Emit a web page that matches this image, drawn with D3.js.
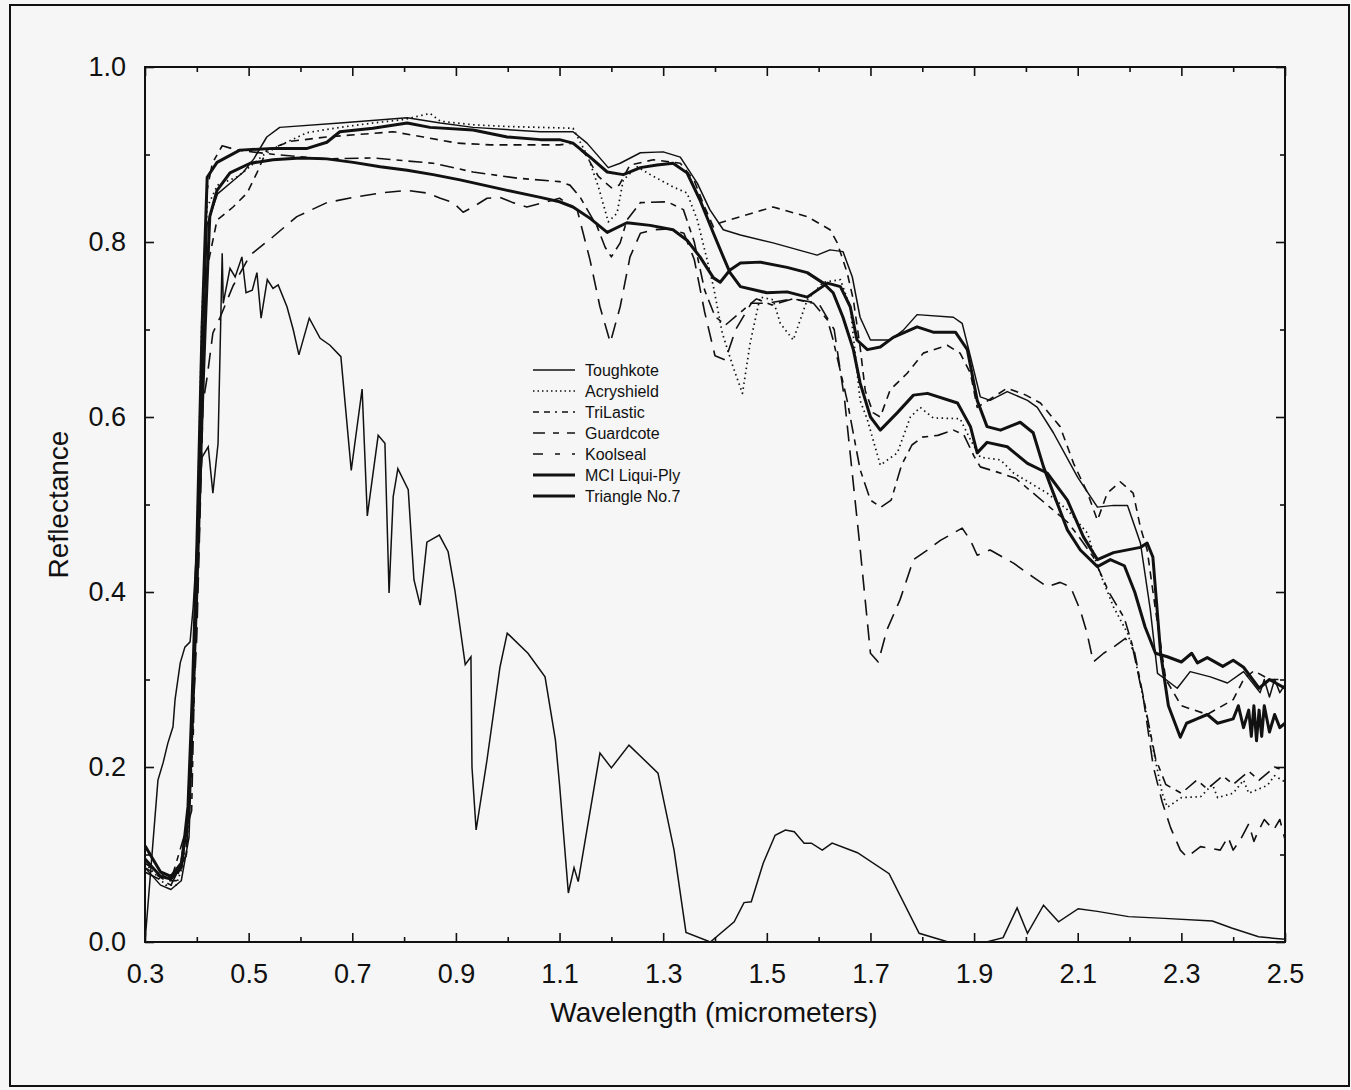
<!DOCTYPE html>
<html>
<head>
<meta charset="utf-8">
<script src="https://cdn.jsdelivr.net/npm/d3@7"></script>
<style>
body { margin:0; background:#f6f6f6; }
svg { display:block; }
text { font-family: Arial, "Liberation Sans", Helvetica, sans-serif; fill:#111; }
.axis-label { font-size:28px; }
.tick-label { font-size:27px; }
.legend-text { font-size:16px; }
</style>
</head>
<body>
<div id="chart"></div>
<script>
// ---- data: [wavelength (um), reflectance] ----
var toughkote = [[0.30,0.085],[0.33,0.065],[0.35,0.06],[0.37,0.07],[0.385,0.12],[0.395,0.3],[0.405,0.55],[0.42,0.82],[0.44,0.855],[0.47,0.87],[0.49,0.88],[0.51,0.895],[0.535,0.92],[0.56,0.931],[0.676,0.936],[0.806,0.942],[0.87,0.936],[0.933,0.931],[1.063,0.926],[1.126,0.926],[1.153,0.913],[1.194,0.885],[1.217,0.89],[1.256,0.902],[1.30,0.903],[1.333,0.897],[1.366,0.867],[1.39,0.837],[1.416,0.814],[1.449,0.808],[1.512,0.799],[1.597,0.785],[1.622,0.791],[1.647,0.789],[1.665,0.76],[1.68,0.714],[1.70,0.688],[1.738,0.688],[1.763,0.699],[1.79,0.717],[1.86,0.714],[1.877,0.707],[1.893,0.669],[1.912,0.623],[1.931,0.619],[1.964,0.629],[2.003,0.619],[2.022,0.611],[2.053,0.582],[2.10,0.531],[2.138,0.497],[2.169,0.499],[2.196,0.499],[2.221,0.456],[2.24,0.38],[2.254,0.307],[2.27,0.30],[2.292,0.29],[2.317,0.309],[2.356,0.303],[2.389,0.296],[2.42,0.309],[2.452,0.285],[2.46,0.30],[2.47,0.28],[2.48,0.30],[2.49,0.285],[2.50,0.294]];

var acryshield = [[0.30,0.09],[0.34,0.065],[0.36,0.065],[0.38,0.10],[0.39,0.2],[0.40,0.45],[0.41,0.72],[0.42,0.84],[0.44,0.865],[0.48,0.875],[0.50,0.885],[0.53,0.90],[0.555,0.909],[0.613,0.925],[0.676,0.931],[0.74,0.936],[0.80,0.94],[0.85,0.947],[0.87,0.938],[0.933,0.934],[1.00,0.932],[1.063,0.931],[1.126,0.93],[1.155,0.897],[1.175,0.863],[1.194,0.823],[1.211,0.833],[1.223,0.871],[1.25,0.886],[1.275,0.877],[1.319,0.863],[1.346,0.856],[1.366,0.825],[1.385,0.779],[1.397,0.749],[1.414,0.696],[1.435,0.657],[1.453,0.627],[1.468,0.685],[1.487,0.737],[1.512,0.734],[1.526,0.707],[1.551,0.688],[1.578,0.734],[1.609,0.754],[1.642,0.757],[1.661,0.726],[1.68,0.619],[1.694,0.597],[1.719,0.545],[1.752,0.559],[1.777,0.60],[1.796,0.611],[1.821,0.599],[1.873,0.598],[1.893,0.574],[1.912,0.554],[1.951,0.551],[1.976,0.536],[2.041,0.513],[2.08,0.494],[2.119,0.467],[2.138,0.429],[2.169,0.383],[2.196,0.353],[2.207,0.334],[2.227,0.277],[2.246,0.219],[2.263,0.17],[2.273,0.154],[2.30,0.165],[2.337,0.166],[2.36,0.18],[2.37,0.165],[2.40,0.17],[2.42,0.185],[2.43,0.17],[2.466,0.179],[2.48,0.19],[2.50,0.183]];

var trilastic = [[0.30,0.085],[0.34,0.07],[0.36,0.07],[0.38,0.11],[0.39,0.2],[0.40,0.4],[0.41,0.62],[0.42,0.77],[0.439,0.825],[0.47,0.84],[0.497,0.856],[0.516,0.879],[0.535,0.905],[0.58,0.915],[0.65,0.92],[0.779,0.926],[0.837,0.92],[0.902,0.913],[0.966,0.911],[1.10,0.911],[1.126,0.913],[1.15,0.90],[1.175,0.875],[1.20,0.862],[1.215,0.865],[1.236,0.888],[1.281,0.894],[1.333,0.89],[1.36,0.87],[1.38,0.84],[1.397,0.817],[1.41,0.822],[1.449,0.829],[1.512,0.84],[1.578,0.829],[1.622,0.814],[1.636,0.799],[1.655,0.765],[1.667,0.734],[1.68,0.68],[1.69,0.63],[1.705,0.605],[1.719,0.60],[1.738,0.631],[1.771,0.65],[1.802,0.673],[1.848,0.682],[1.873,0.673],[1.893,0.65],[1.906,0.611],[1.93,0.62],[1.964,0.633],[2.00,0.625],[2.028,0.616],[2.066,0.589],[2.092,0.547],[2.119,0.513],[2.138,0.482],[2.157,0.513],[2.182,0.526],[2.207,0.513],[2.221,0.474],[2.234,0.448],[2.25,0.38],[2.27,0.30],[2.30,0.27],[2.35,0.26],[2.40,0.277],[2.42,0.30],[2.44,0.31],[2.47,0.30],[2.50,0.30]];

var guardcote = [[0.30,0.09],[0.35,0.07],[0.39,0.15],[0.41,0.7],[0.42,0.86],[0.43,0.89],[0.449,0.91],[0.478,0.905],[0.55,0.90],[0.65,0.895],[0.74,0.896],[0.856,0.89],[0.933,0.88],[1.018,0.873],[1.10,0.869],[1.12,0.865],[1.14,0.851],[1.173,0.817],[1.188,0.794],[1.20,0.783],[1.217,0.799],[1.23,0.825],[1.256,0.845],[1.308,0.846],[1.339,0.837],[1.36,0.80],[1.38,0.745],[1.40,0.715],[1.42,0.705],[1.45,0.72],[1.48,0.735],[1.51,0.728],[1.55,0.735],[1.59,0.73],[1.617,0.711],[1.628,0.688],[1.655,0.619],[1.68,0.54],[1.70,0.505],[1.72,0.497],[1.74,0.505],[1.76,0.545],[1.78,0.568],[1.80,0.577],[1.83,0.579],[1.86,0.585],[1.88,0.58],[1.90,0.555],[1.912,0.543],[1.945,0.537],[1.98,0.53],[2.00,0.52],[2.04,0.50],[2.08,0.48],[2.10,0.465],[2.13,0.44],[2.16,0.40],[2.19,0.37],[2.21,0.33],[2.23,0.27],[2.25,0.21],[2.27,0.18],[2.30,0.17],[2.33,0.185],[2.35,0.175],[2.38,0.19],[2.40,0.18],[2.43,0.195],[2.45,0.185],[2.48,0.2],[2.50,0.195]];

var koolseal = [[0.30,0.08],[0.35,0.065],[0.38,0.10],[0.40,0.35],[0.412,0.616],[0.42,0.646],[0.431,0.696],[0.445,0.714],[0.47,0.75],[0.503,0.785],[0.547,0.806],[0.593,0.829],[0.651,0.845],[0.702,0.851],[0.754,0.856],[0.806,0.859],[0.844,0.856],[0.87,0.85],[0.895,0.845],[0.914,0.834],[0.933,0.84],[0.96,0.85],[0.985,0.851],[1.01,0.845],[1.037,0.84],[1.076,0.846],[1.10,0.85],[1.134,0.837],[1.159,0.779],[1.178,0.726],[1.198,0.685],[1.217,0.726],[1.236,0.783],[1.256,0.81],[1.281,0.814],[1.31,0.815],[1.34,0.81],[1.36,0.78],[1.38,0.72],[1.40,0.67],[1.42,0.665],[1.44,0.70],[1.47,0.73],[1.50,0.73],[1.55,0.735],[1.60,0.73],[1.63,0.70],[1.65,0.62],[1.68,0.45],[1.70,0.33],[1.715,0.32],[1.732,0.357],[1.757,0.391],[1.783,0.437],[1.81,0.448],[1.835,0.459],[1.877,0.473],[1.893,0.459],[1.906,0.442],[1.931,0.448],[1.976,0.433],[2.014,0.417],[2.041,0.406],[2.066,0.411],[2.086,0.406],[2.105,0.379],[2.118,0.353],[2.13,0.32],[2.15,0.33],[2.169,0.337],[2.192,0.347],[2.207,0.334],[2.227,0.277],[2.246,0.20],[2.263,0.16],[2.279,0.131],[2.298,0.105],[2.311,0.097],[2.337,0.109],[2.375,0.105],[2.39,0.12],[2.40,0.105],[2.414,0.117],[2.43,0.135],[2.44,0.115],[2.447,0.125],[2.46,0.14],[2.478,0.128],[2.49,0.14],[2.50,0.117]];

var mciLiquiPly = [[0.30,0.095],[0.33,0.075],[0.35,0.072],[0.37,0.085],[0.383,0.155],[0.391,0.277],[0.40,0.45],[0.41,0.70],[0.42,0.874],[0.439,0.891],[0.483,0.905],[0.547,0.907],[0.613,0.907],[0.651,0.914],[0.676,0.926],[0.74,0.93],[0.806,0.936],[0.85,0.931],[0.933,0.928],[0.999,0.92],[1.063,0.917],[1.10,0.917],[1.126,0.913],[1.159,0.897],[1.192,0.88],[1.223,0.877],[1.256,0.885],[1.288,0.888],[1.319,0.89],[1.346,0.879],[1.371,0.848],[1.397,0.81],[1.416,0.783],[1.429,0.765],[1.449,0.749],[1.50,0.742],[1.539,0.743],[1.578,0.737],[1.617,0.753],[1.642,0.749],[1.661,0.726],[1.674,0.688],[1.694,0.677],[1.719,0.68],[1.744,0.691],[1.79,0.703],[1.821,0.697],[1.864,0.697],[1.887,0.677],[1.906,0.619],[1.925,0.589],[1.951,0.585],[1.989,0.594],[2.014,0.582],[2.034,0.543],[2.053,0.513],[2.08,0.471],[2.105,0.448],[2.138,0.429],[2.163,0.437],[2.19,0.43],[2.21,0.40],[2.23,0.36],[2.25,0.33],[2.273,0.326],[2.30,0.32],[2.32,0.33],[2.331,0.319],[2.35,0.325],[2.38,0.315],[2.40,0.322],[2.42,0.314],[2.45,0.29],[2.47,0.30],[2.50,0.29]];

var triangleNo7 = [[0.30,0.11],[0.33,0.08],[0.35,0.075],[0.37,0.09],[0.383,0.14],[0.391,0.25],[0.40,0.40],[0.41,0.60],[0.416,0.70],[0.425,0.829],[0.439,0.859],[0.464,0.879],[0.503,0.89],[0.547,0.894],[0.60,0.896],[0.651,0.895],[0.702,0.891],[0.754,0.886],[0.806,0.882],[0.856,0.877],[0.908,0.871],[0.999,0.859],[1.063,0.851],[1.10,0.846],[1.126,0.84],[1.159,0.827],[1.192,0.811],[1.23,0.822],[1.275,0.819],[1.319,0.814],[1.346,0.802],[1.371,0.783],[1.397,0.759],[1.41,0.754],[1.429,0.768],[1.449,0.776],[1.487,0.777],[1.539,0.771],[1.578,0.765],[1.609,0.753],[1.628,0.742],[1.647,0.714],[1.667,0.677],[1.68,0.639],[1.70,0.60],[1.719,0.585],[1.752,0.605],[1.783,0.625],[1.81,0.627],[1.868,0.616],[1.893,0.589],[1.906,0.559],[1.925,0.571],[1.964,0.566],[2.003,0.547],[2.041,0.536],[2.08,0.505],[2.111,0.463],[2.138,0.437],[2.169,0.445],[2.221,0.451],[2.234,0.456],[2.245,0.44],[2.26,0.33],[2.275,0.27],[2.298,0.234],[2.31,0.25],[2.33,0.255],[2.35,0.26],[2.37,0.25],[2.40,0.255],[2.41,0.27],[2.42,0.245],[2.43,0.265],[2.435,0.235],[2.44,0.27],[2.445,0.23],[2.45,0.265],[2.455,0.235],[2.46,0.27],[2.47,0.24],[2.48,0.26],[2.49,0.245],[2.50,0.25]];

// unlabeled solar irradiance curve (thin solid)
var solar = [[0.30,0.0],[0.325,0.185],[0.335,0.205],[0.344,0.227],[0.354,0.246],[0.358,0.277],[0.368,0.319],[0.377,0.337],[0.387,0.343],[0.393,0.383],[0.41,0.554],[0.422,0.566],[0.431,0.513],[0.441,0.57],[0.449,0.787],[0.451,0.73],[0.464,0.77],[0.474,0.76],[0.487,0.783],[0.495,0.742],[0.507,0.745],[0.516,0.765],[0.524,0.713],[0.536,0.757],[0.547,0.747],[0.557,0.751],[0.574,0.726],[0.586,0.70],[0.597,0.671],[0.617,0.713],[0.638,0.69],[0.657,0.682],[0.678,0.669],[0.698,0.539],[0.719,0.632],[0.729,0.487],[0.75,0.579],[0.763,0.57],[0.771,0.399],[0.779,0.509],[0.788,0.541],[0.808,0.517],[0.819,0.414],[0.831,0.385],[0.844,0.457],[0.868,0.465],[0.885,0.446],[0.898,0.402],[0.918,0.317],[0.929,0.326],[0.931,0.2],[0.939,0.128],[0.96,0.208],[0.985,0.314],[0.999,0.353],[1.039,0.33],[1.072,0.303],[1.092,0.231],[1.10,0.18],[1.117,0.056],[1.128,0.085],[1.136,0.069],[1.178,0.216],[1.20,0.199],[1.234,0.225],[1.29,0.193],[1.321,0.105],[1.344,0.011],[1.391,0.0],[1.437,0.023],[1.456,0.045],[1.47,0.046],[1.493,0.09],[1.516,0.122],[1.536,0.128],[1.553,0.126],[1.572,0.113],[1.586,0.113],[1.607,0.105],[1.626,0.113],[1.675,0.102],[1.736,0.078],[1.794,0.01],[1.85,0.0],[1.924,0.0],[1.956,0.005],[1.983,0.039],[2.003,0.01],[2.034,0.042],[2.063,0.023],[2.101,0.038],[2.138,0.035],[2.198,0.029],[2.267,0.027],[2.36,0.024],[2.397,0.016],[2.449,0.006],[2.50,0.003]];

var seriesNames = ['Toughkote','Acryshield','TriLastic','Guardcote','Koolseal','MCI Liqui-Ply','Triangle No.7'];
var xTickLabels = [0.3,0.5,0.7,0.9,1.1,1.3,1.5,1.7,1.9,2.1,2.3,2.5];
var yTickLabels = [0.0,0.2,0.4,0.6,0.8,1.0];

// ---- layout ----
var svgWidth = 1351,
	svgHeight = 1090;

var margin = { t:67, r:66, b:148, l:145 };
var width = svgWidth - margin.l - margin.r,
	height = svgHeight - margin.t - margin.b;

var svg = d3.select('#chart')
	.append('svg')
	.attr('width', svgWidth)
	.attr('height', svgHeight);

svg.append('rect')
	.attr('x',10).attr('y',5)
	.attr('width',1339).attr('height',1081)
	.attr('fill','#f6f6f6')
	.attr('stroke','#111')
	.attr('stroke-width',2);

var chartGroup = svg.append('g')
	.attr('transform',`translate(${margin.l},${margin.t})`);

var xScale = d3.scaleLinear().domain([0.3,2.5]).range([0,width]);
var yScale = d3.scaleLinear().domain([0,1]).range([height,0]);

chartGroup.append('clipPath').attr('id','plotclip')
	.append('rect').attr('x',0).attr('y',-2).attr('width',width).attr('height',height+2);

// ---- axes: ticks inward on all four sides ----
var xMinor = d3.range(0.4,2.5,0.2);
var yMinor = d3.range(0.1,1.0,0.2);

function tickFmt(d){ return d3.format('.1f')(d); }

chartGroup.append('g')
	.attr('transform',`translate(0,${height})`)
	.call(d3.axisBottom(xScale).tickValues(xTickLabels).tickSizeInner(-9).tickSizeOuter(0).tickPadding(22).tickFormat(tickFmt))
	.call(g => g.selectAll('text').attr('class','tick-label'));
chartGroup.append('g')
	.attr('transform',`translate(0,${height})`)
	.call(d3.axisBottom(xScale).tickValues(xMinor).tickSize(-5).tickFormat(''));
chartGroup.append('g')
	.call(d3.axisTop(xScale).tickValues(xTickLabels).tickSize(-9).tickFormat(''));
chartGroup.append('g')
	.call(d3.axisTop(xScale).tickValues(xMinor).tickSize(-5).tickFormat(''));

chartGroup.append('g')
	.call(d3.axisLeft(yScale).tickValues(yTickLabels).tickSizeInner(-9).tickSizeOuter(0).tickPadding(19).tickFormat(tickFmt))
	.call(g => g.selectAll('text').attr('class','tick-label'));
chartGroup.append('g')
	.call(d3.axisLeft(yScale).tickValues(yMinor).tickSize(-5).tickFormat(''));
chartGroup.append('g')
	.attr('transform',`translate(${width},0)`)
	.call(d3.axisRight(yScale).tickValues(yTickLabels).tickSize(-9).tickFormat(''));
chartGroup.append('g')
	.attr('transform',`translate(${width},0)`)
	.call(d3.axisRight(yScale).tickValues(yMinor).tickSize(-5).tickFormat(''));

chartGroup.selectAll('.domain').attr('stroke','none');
chartGroup.selectAll('.tick line').attr('stroke','#111').attr('stroke-width',1.6);
chartGroup.selectAll('.tick text').attr('fill','#111').style('font-family','Arial, "Liberation Sans", sans-serif');

chartGroup.append('rect')
	.attr('width',width).attr('height',height)
	.attr('fill','none').attr('stroke','#111').attr('stroke-width',2);

// ---- curves ----
var line = d3.line()
	.x(d => xScale(d[0]))
	.y(d => yScale(d[1]));

var styles = [
	{ data: toughkote,   w:1.5, dash:null },
	{ data: acryshield,  w:1.7, dash:'1.5,3.5' },
	{ data: trilastic,   w:1.6, dash:'8,6' },
	{ data: guardcote,   w:1.6, dash:'14,6,6,6' },
	{ data: koolseal,    w:1.6, dash:'16,9' },
	{ data: mciLiquiPly, w:3, dash:null },
	{ data: triangleNo7, w:3, dash:null }
];

var curves = chartGroup.append('g').attr('clip-path','url(#plotclip)');

curves.append('path')
	.attr('d', line(solar))
	.attr('fill','none').attr('stroke','#111').attr('stroke-width',1.5);

styles.forEach(s => {
	curves.append('path')
		.attr('d', line(s.data))
		.attr('fill','none')
		.attr('stroke','#111')
		.attr('stroke-width', s.w)
		.attr('stroke-linejoin','round')
		.attr('stroke-dasharray', s.dash);
});

// ---- legend ----
var legend = svg.append('g').attr('transform','translate(533,370)');
seriesNames.forEach((name,i) => {
	var s = styles[i];
	var legendDash = [null,'1.5,3','6,5,6,5,2,5','12,8,6,8','10,12,5,12',null,null][i];
	legend.append('line')
		.attr('x1',0).attr('x2',42)
		.attr('y1',i*21).attr('y2',i*21)
		.attr('stroke','#111')
		.attr('stroke-width', s.w)
		.attr('stroke-dasharray', legendDash);
	legend.append('text')
		.attr('class','legend-text')
		.attr('x',52).attr('y',i*21 + 6)
		.text(name);
});

// ---- axis titles ----
svg.append('text')
	.attr('class','axis-label')
	.attr('text-anchor','middle')
	.attr('x', 714)
	.attr('y', 1022)
	.text('Wavelength (micrometers)');

svg.append('text')
	.attr('class','axis-label')
	.attr('text-anchor','middle')
	.attr('transform',`translate(68,${margin.t + height/2})rotate(-90)`)
	.text('Reflectance');
</script>
</body>
</html>
